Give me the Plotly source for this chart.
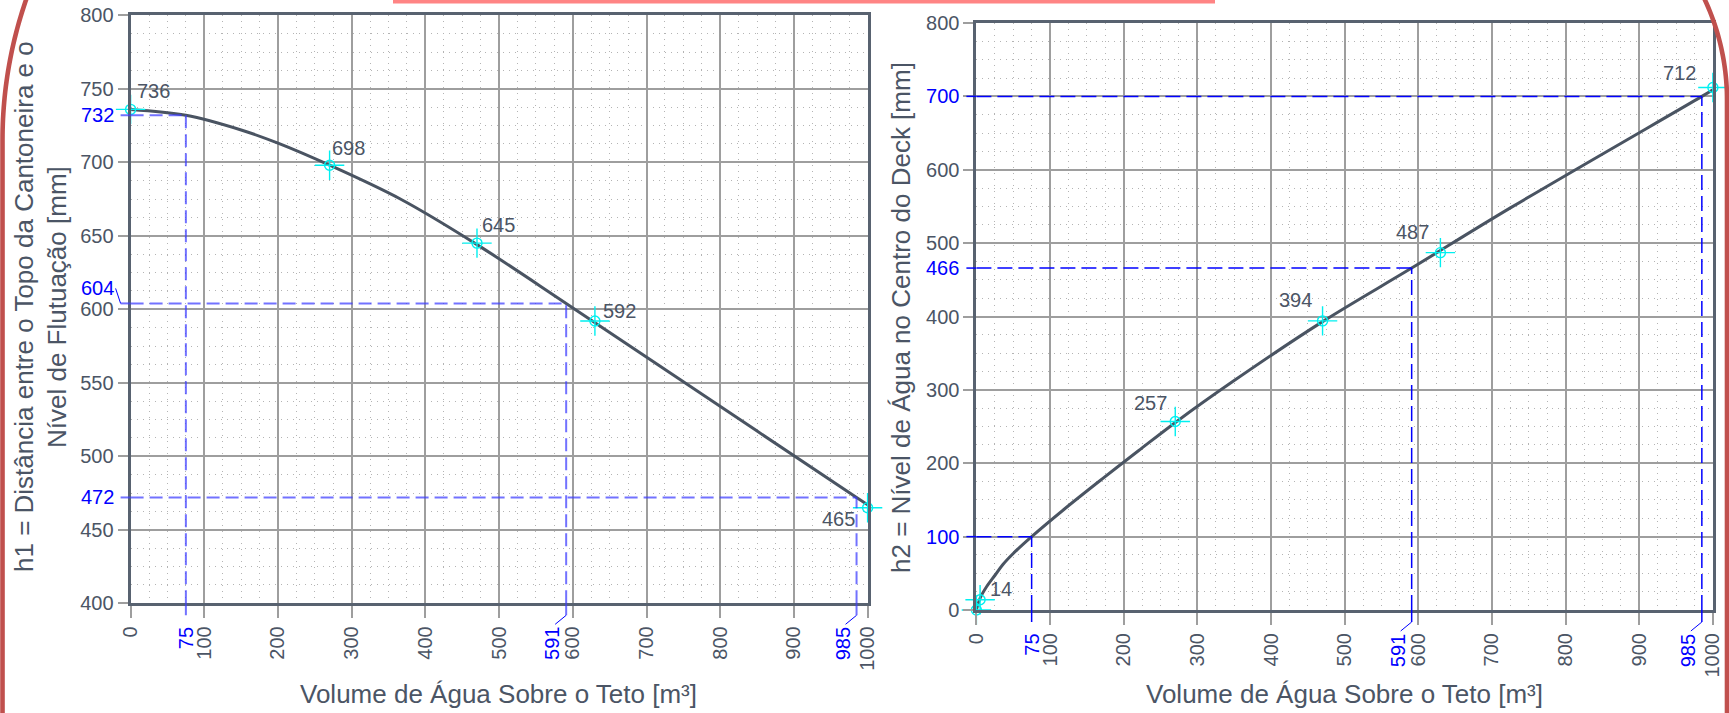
import math
import plotly.graph_objects as go

W, H = 1729, 713

# ---- data -------------------------------------------------------------
# h1: distance between the angle top and the floating level (mm)
h1_curve_vol = [0, 75, 150, 200, 270, 366, 470, 591, 746, 985, 1000]
h1_curve_mm = [736, 732, 722, 713, 698, 675, 644, 604, 552, 472, 467]
# measured h1 points
h1_pts_vol = [0, 270, 470, 630, 1000]
h1_pts_mm = [736, 698, 645, 592, 465]

# h2: water level at the deck centre (mm)
h2_curve_vol = [0, 5, 14, 25, 36, 50, 75, 120, 170, 220, 272, 349, 470, 591, 725, 985, 1000]
h2_curve_mm = [0, 16, 32, 47, 62, 77, 100, 138, 178, 217, 257, 312, 393, 466, 548, 700, 709]
# measured h2 points
h2_pts_vol = [0, 5, 270, 470, 630, 1000]
h2_pts_mm = [0, 14, 257, 394, 487, 712]
h2_pts_text = ["", "14", "257", "394", "487", "712"]

# guide readings (dashed lines)
guide_vol = [75, 591, 985]
guide_h1 = [732, 604, 472]
guide_h2 = [100, 466, 700]

x_ticks = list(range(0, 1001, 100))
h1_ticks = list(range(400, 801, 50))
h2_ticks = list(range(0, 801, 100))

# ---- style ------------------------------------------------------------
TEXT = "#4b5565"
CURVE = "#4a5462"
FRAME = "#586270"
GRID = "#9e9e9e"
MINOR = "#b4b4b4"
CYAN = "#00f0f0"
BLUE = "#0000ff"
BLUE_L = "rgba(60,60,255,0.72)"
RED = "#c0504d"
FONT = "Liberation Sans, Arial, sans-serif"
TICK_SIZE = 20
TITLE_SIZE = 26


def px_x(p):
    return p / W


def px_y(p):
    return 1 - p / H


L_DOM_X = [px_x(130.6), px_x(867.6)]
L_DOM_Y = [px_y(603.3), px_y(15.3)]
R_DOM_X = [px_x(976.4), px_x(1712.9)]
R_DOM_Y = [px_y(610), px_y(23)]

fig = go.Figure()


def add_series(xref, yref, cx, cy, px, py):
    fig.add_trace(go.Scatter(
        x=cx, y=cy, mode="lines", xaxis=xref, yaxis=yref, hoverinfo="skip",
        line=dict(color=CURVE, width=3, shape="spline", smoothing=1.0)))
    fig.add_trace(go.Scatter(
        x=px, y=py, mode="markers", xaxis=xref, yaxis=yref, cliponaxis=False,
        marker=dict(symbol="cross-thin-open", size=21, color=CYAN,
                    line=dict(color=CYAN, width=1.4))))
    fig.add_trace(go.Scatter(
        x=px, y=py, mode="markers", xaxis=xref, yaxis=yref, cliponaxis=False,
        marker=dict(symbol="circle-open", size=10, color=CYAN,
                    line=dict(color=CYAN, width=1.4))))


add_series("x", "y", h1_curve_vol, h1_curve_mm, h1_pts_vol, h1_pts_mm)
add_series("x2", "y2", h2_curve_vol, h2_curve_mm, h2_pts_vol, h2_pts_mm)

shapes = []
annotations = []


def guides(xr, yr, dom_x0, dom_y0, ymin, vols, levels, color, width, dash,
           shifted_x, shifted_y, y_label_ann):
    for v, h in zip(vols, levels):
        # horizontal and vertical dashed readings inside the frame
        shapes.append(dict(type="line", xref=xr, yref=yr, x0=0, x1=v, y0=h, y1=h,
                           line=dict(color=color, width=width, dash=dash)))
        shapes.append(dict(type="line", xref=xr, yref=yr, x0=v, x1=v, y0=ymin, y1=h,
                           line=dict(color=color, width=width, dash=dash)))
        # extensions through the tick area
        shapes.append(dict(type="line", xref="paper", xsizemode="pixel", xanchor=dom_x0,
                           x0=-10, x1=0, yref=yr, y0=h, y1=h,
                           line=dict(color=color, width=width)))
        shapes.append(dict(type="line", xref=xr, x0=v, x1=v, yref="paper",
                           ysizemode="pixel", yanchor=dom_y0, y0=-12, y1=0,
                           line=dict(color=color, width=width)))
        dx = 0
        if v in shifted_x:
            dx = -14
            shapes.append(dict(type="line", xref=xr, xsizemode="pixel", xanchor=v,
                               x0=0, x1=-11, yref="paper", ysizemode="pixel",
                               yanchor=dom_y0, y0=-12, y1=-21,
                               line=dict(color=BLUE, width=1)))
        annotations.append(dict(
            xref=xr, x=v, yref=yr + " domain", y=0, text=str(v), showarrow=False,
            textangle=-90, xanchor="center", yanchor="top", xshift=dx, yshift=-23,
            font=dict(color=BLUE, size=TICK_SIZE, family=FONT), borderpad=0))
        if y_label_ann:
            dy = 0
            if h in shifted_y:
                dy = 15
                shapes.append(dict(type="line", xref="paper", xsizemode="pixel",
                                   xanchor=dom_x0, x0=-10, x1=-15, yref=yr,
                                   ysizemode="pixel", yanchor=h, y0=0, y1=15,
                                   line=dict(color=BLUE, width=1)))
            annotations.append(dict(
                xref=xr + " domain", x=0, yref=yr, y=h, text=str(h), showarrow=False,
                xanchor="right", yanchor="middle", xshift=-16, yshift=dy,
                font=dict(color=BLUE, size=TICK_SIZE, family=FONT), borderpad=0))


guides("x", "y", L_DOM_X[0], L_DOM_Y[0], 400, guide_vol, guide_h1, BLUE_L, 2,
       "13px,6px", {591, 985}, {604}, True)
guides("x2", "y2", R_DOM_X[0], R_DOM_Y[0], 0, guide_vol, guide_h2, BLUE, 1.5,
       "15px,6px", {591, 985}, set(), False)
# 466 is not a regular tick on the h2 axis
annotations.append(dict(
    xref="x2 domain", x=0, yref="y2", y=guide_h2[1], text=str(guide_h2[1]),
    showarrow=False, xanchor="right", yanchor="middle", xshift=-16,
    font=dict(color=BLUE, size=TICK_SIZE, family=FONT), borderpad=0))

# point value labels
h1_offsets = [(23, 18), (19, 17), (22, 18), (25, 10), (-29, -11)]
for v, h, (dx, dy) in zip(h1_pts_vol, h1_pts_mm, h1_offsets):
    annotations.append(dict(xref="x", yref="y", x=v, y=h, text=str(h), showarrow=False,
                            xanchor="center", yanchor="middle", xshift=dx, yshift=dy,
                            font=dict(color=TEXT, size=TICK_SIZE, family=FONT)))
h2_offsets = [(0, 0), (21, 11), (-25, 18), (-27, 21), (-28, 21), (-33, 15)]
for v, h, t, (dx, dy) in zip(h2_pts_vol, h2_pts_mm, h2_pts_text, h2_offsets):
    if t:
        annotations.append(dict(xref="x2", yref="y2", x=v, y=h, text=t, showarrow=False,
                                xanchor="center", yanchor="middle", xshift=dx, yshift=dy,
                                font=dict(color=TEXT, size=TICK_SIZE, family=FONT)))

# axis titles
title_font = dict(color=TEXT, size=TITLE_SIZE, family=FONT)
centered = dict(xref="paper", yref="paper", showarrow=False, xanchor="center",
                yanchor="middle", font=title_font)
annotations += [
    dict(centered, x=px_x(499), y=px_y(694), text="Volume de Água Sobre o Teto [m³]"),
    dict(centered, x=px_x(1344.6), y=px_y(694), text="Volume de Água Sobre o Teto [m³]"),
    dict(centered, x=px_x(24), y=px_y(307), textangle=-90,
         text="h1 = Distância entre o Topo da Cantoneira e o"),
    dict(centered, x=px_x(57), y=px_y(307), textangle=-90,
         text="Nível de Flutuação [mm]"),
    dict(centered, x=px_x(901), y=px_y(318), textangle=-90,
         text="h2 = Nível de Água no Centro do Deck [mm]"),
]


# decorative frame pieces: curved red borders and the top accent bar
def arc_path(points):
    return "M " + " L ".join(f"{px_x(a):.5f},{px_y(b):.5f}" for a, b in points)


left_pts = []
for i in range(0, 31):
    yy = -20 + i * (160 / 30)
    left_pts.append((431.5 - math.sqrt(429 ** 2 - (140 - yy) ** 2), yy))
left_pts.append((2.5, 730))
right_pts = []
for i in range(0, 31):
    yy = -20 + i * (120 / 30)
    right_pts.append((1489 + math.sqrt(238 ** 2 - (100 - yy) ** 2), yy))
right_pts.append((1727, 730))
for pts in (left_pts, right_pts):
    shapes.append(dict(type="path", xref="paper", yref="paper", path=arc_path(pts),
                       line=dict(color=RED, width=4.6)))
shapes.append(dict(type="rect", xref="paper", yref="paper", x0=px_x(393), x1=px_x(1215),
                   y0=px_y(0), y1=px_y(3.5), fillcolor="#ff8484", line=dict(width=0)))


def x_axis(domain, anchor):
    return dict(domain=domain, anchor=anchor, range=[0, 1000], tickvals=x_ticks,
                ticktext=[str(t) for t in x_ticks], tickangle=-90,
                showgrid=True, gridcolor=GRID, gridwidth=1.5, zeroline=False,
                showline=True, mirror=True, linecolor=FRAME, linewidth=3,
                ticks="outside", ticklen=12, tickcolor=GRID, tickwidth=1.5,
                tickfont=dict(color=TEXT, size=TICK_SIZE, family=FONT),
                minor=dict(dtick=25, tick0=0, showgrid=True, gridcolor=MINOR,
                           gridwidth=1, griddash="1px,5px"))


def y_axis(domain, anchor, rng, ticks, ticktext, minor_dtick):
    return dict(domain=domain, anchor=anchor, range=rng, tickvals=ticks,
                ticktext=ticktext,
                showgrid=True, gridcolor=GRID, gridwidth=1.5, zeroline=False,
                showline=True, mirror=True, linecolor=FRAME, linewidth=3,
                ticks="outside", ticklen=10, tickcolor=GRID, tickwidth=1.5,
                tickfont=dict(color=TEXT, size=TICK_SIZE, family=FONT),
                minor=dict(dtick=minor_dtick, tick0=rng[0], showgrid=True,
                           gridcolor=MINOR, gridwidth=1, griddash="1px,5px"))


h2_ticktext = [f'<span style="color:{BLUE}">{t}</span>' if t in guide_h2 else str(t)
               for t in h2_ticks]

fig.update_layout(
    template="none",
    width=W, height=H,
    margin=dict(l=0, r=0, t=0, b=0),
    paper_bgcolor="white", plot_bgcolor="white",
    showlegend=False,
    font=dict(family=FONT, color=TEXT),
    xaxis=x_axis(L_DOM_X, "y"),
    yaxis=y_axis(L_DOM_Y, "x", [400, 800], h1_ticks, [str(t) for t in h1_ticks], 12.5),
    xaxis2=x_axis(R_DOM_X, "y2"),
    yaxis2=y_axis(R_DOM_Y, "x2", [0, 800], h2_ticks, h2_ticktext, 25),
    shapes=shapes,
    annotations=annotations,
)

fig.write_html("out.html")
